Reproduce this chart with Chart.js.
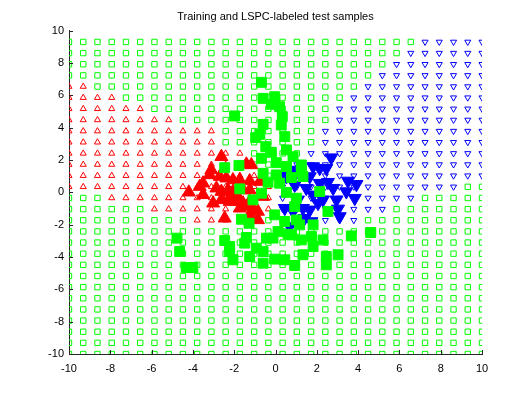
<!DOCTYPE html>
<html>
<head>
<meta charset="utf-8">
<script src="https://cdn.jsdelivr.net/npm/chart.js@4"></script>
<style>
  html, body { margin: 0; padding: 0; background: #fff; }
  canvas { display: block; }
</style>
</head>
<body>
<canvas id="chart" width="532" height="399"></canvas>
<script>
// test grid: 30 columns, 29 rows (top to bottom)
const gridX = [-10, -9.3103, -8.6207, -7.931, -7.2414, -6.5517, -5.8621, -5.1724, -4.4828, -3.7931,
  -3.1034, -2.4138, -1.7241, -1.0345, -0.3448, 0.3448, 1.0345, 1.7241, 2.4138, 3.1034,
  3.7931, 4.4828, 5.1724, 5.8621, 6.5517, 7.2414, 7.931, 8.6207, 9.3103, 10];
const gridY = [9.3103, 8.6207, 7.931, 7.2414, 6.5517, 5.8621, 5.1724, 4.4828, 3.7931, 3.1034,
  2.4138, 1.7241, 1.0345, 0.3448, -0.3448, -1.0345, -1.7241, -2.4138, -3.1034, -3.7931,
  -4.4828, -5.1724, -5.8621, -6.5517, -7.2414, -7.931, -8.6207, -9.3103, -10];

// LSPC labels of the test grid, one row per gridY value: r = red, g = green, b = blue
const testRows = [
  'gggggggggggggggggggggggggbbbbb',
  'ggggggggggggggggggggggggbbbbbb',
  'gggggggggggggggggggggggbbbbbbb',
  'ggggggggggggggggggggggbbbbbbbb',
  'rrgggggggggggggggggggbbbbbbbbb',
  'rrrrggggggggggggggggbbbbbbbbbb',
  'rrrrrrgggggggggggggbbbbbbbbbbb',
  'rrrrrrrrgggggggggggbbbbbbbbbbb',
  'rrrrrrrrrrrgggggggbbbbbbbbbbbb',
  'rrrrrrrrrrrgggggggbbbbbbbbbbbb',
  'rrrrrrrrrrrrrggggbbbbbbbbbbbbb',
  'rrrrrrrrrrrrrgggbbbbbbbbbbbbbb',
  'rrrrrrrrrrrrrrggbbbbbbbbbbbbbb',
  'rrrrrrrrrrrrrrrbbbbbbbbbbbbbgg',
  'gggrrrrrrrrrrrrbbbbbbbbbbggggg',
  'ggggggrrrrrrrrrbbbbbbbbggggggg',
  'gggggggggrrrrggggbbbbggggggggg',
  'gggggggggggggggggggggggggggggg',
  'gggggggggggggggggggggggggggggg',
  'gggggggggggggggggggggggggggggg',
  'gggggggggggggggggggggggggggggg',
  'gggggggggggggggggggggggggggggg',
  'gggggggggggggggggggggggggggggg',
  'gggggggggggggggggggggggggggggg',
  'gggggggggggggggggggggggggggggg',
  'gggggggggggggggggggggggggggggg',
  'gggggggggggggggggggggggggggggg',
  'gggggggggggggggggggggggggggggg',
  'gggggggggggggggggggggggggggggg'
];

// training samples [x, y]
const redTrain = [[-2.62,2.21],[-3.11,1.39],[-1.41,1.74],[-1.17,1.7],[-3.19,1.08],[-2.7,0.98],[-3.51,0.57],
  [-2.38,0.88],[-2.06,0.77],[-1.73,0.77],[-1.25,0.71],[-0.76,0.67],[-4.2,0.01],[-3.67,0.36],[-3.51,-0.15],
  [-2.86,0.26],[-2.62,0.05],[-2.3,0.15],[-2.06,0.05],[-1.57,0.15],[-1.25,0.15],[-2.14,-0.15],[-1.82,-0.26],
  [-3.02,-0.67],[-2.62,-0.46],[-2.22,-0.57],[-1.9,-0.57],[-1.57,-0.67],[-1.25,-0.57],[-0.6,-0.26],
  [-1.73,-0.98],[-1.41,-0.88],[-1.09,-1.08],[-0.85,-1.18],[-2.46,-1.6],[-0.85,-1.7],[-1.25,-1.39]];
const greenTrain = [[-0.68,6.81],[-0.6,5.82],[-0.04,5.92],[-0.2,5.45],[0.2,5.3],[-1.98,4.73],[0.33,4.69],
  [0.28,4.17],[-0.6,4.21],[0.45,3.45],[-0.76,3.59],[-0.96,3.39],[-0.47,2.83],[-0.2,2.48],[0.53,2.63],
  [-0.68,2.11],[0.04,1.84],[0.53,1.6],[-2.46,1.53],[-1.77,1.66],[-0.6,1.18],[0.04,1.08],[0.2,0.57],
  [-0.36,0.63],[-1.73,0.22],[-0.68,-0.05],[-1.09,-0.46],[-0.04,-1.39],[-1.65,-1.66],[-1.28,-1.91],
  [0.45,-1.8],[0.12,-2.42],[0.61,-2.59],[-2.46,-2.98],[-2.22,-3.35],[-2.22,-3.66],[-1.41,-2.79],
  [-1.49,-3.14],[-4.77,-2.83],[-4.64,-3.66],[-4.32,-4.65],[-4.0,-4.65],[-2.06,-4.17],[-1.25,-3.97],
  [-0.93,-3.45],[-0.6,-3.66],[-0.44,-2.83],[-0.12,-2.83],[-0.6,-4.38],[-0.04,-4.13],[0.45,-4.17],
  [0.85,2.21],[1.25,1.7],[1.25,1.29],[1.33,0.98],[0.77,0.92],[0.53,0.0],[1.01,-0.36],[0.93,-0.88],
  [2.14,0.05],[2.54,-1.18],[1.01,-1.7],[1.17,-2.01],[1.82,-2.01],[0.77,-2.63],[1.25,-2.94],[1.74,-2.73],
  [2.3,-2.94],[1.82,-3.35],[1.33,-3.86],[2.46,-3.97],[2.46,-4.48],[3.03,-3.86],[0.93,-4.52],[3.67,-2.69],
  [4.61,-2.48]];
const blueTrain = [[2.7,2.15],[1.82,1.6],[2.14,1.49],[2.46,1.49],[1.66,0.98],[3.51,0.71],[3.92,0.5],
  [2.14,0.57],[2.54,0.63],[0.61,1.08],[1.01,1.39],[0.93,0.46],[1.49,0.26],[2.79,0.26],[3.43,0.05],
  [3.84,-0.36],[1.82,-0.15],[2.3,-0.46],[2.95,-0.46],[3.03,-1.02],[1.09,-0.46],[1.33,-0.98],[1.66,-1.08],
  [2.06,-0.67],[0.45,-0.98],[0.85,-1.18],[3.11,-1.49],[0.69,-2.11],[1.74,-1.8],[1.41,-1.6],[0.53,0.98]];

const axisTicks = [-10, -8, -6, -4, -2, 0, 2, 4, 6, 8, 10];

const RED = '#ff0000';
const GREEN = '#00ff00';
const BLUE = '#0000ff';

function testPoints(label) {
  const pts = [];
  testRows.forEach((row, r) => {
    for (let c = 0; c < gridX.length; c++) {
      if (row[c] === label) pts.push({ x: gridX[c], y: gridY[r] });
    }
  });
  return pts;
}

const toXY = arr => arr.map(p => ({ x: p[0], y: p[1] }));

// ticks pointing into the plot, like the original figure
const innerTicks = {
  id: 'innerTicks',
  afterDraw(chart) {
    const { ctx, chartArea, scales } = chart;
    ctx.save();
    ctx.strokeStyle = '#262626';
    ctx.lineWidth = 1;
    ctx.beginPath();
    axisTicks.forEach(v => {
      const px = Math.round(scales.x.getPixelForValue(v)) + 0.5;
      ctx.moveTo(px, chartArea.bottom);
      ctx.lineTo(px, chartArea.bottom - 4);
      const py = Math.round(scales.y.getPixelForValue(v)) + 0.5;
      ctx.moveTo(chartArea.left, py);
      ctx.lineTo(chartArea.left + 4, py);
    });
    ctx.stroke();
    ctx.restore();
  }
};

const scaleOpts = {
  type: 'linear',
  min: -10,
  max: 10,
  afterBuildTicks: s => { s.ticks = axisTicks.map(v => ({ value: v })); },
  grid: { drawOnChartArea: false, drawTicks: false },
  border: { color: '#262626', width: 1 },
  ticks: {
    autoSkip: false,
    color: '#000',
    font: { family: 'Liberation Sans, Arial, sans-serif', size: 11 }
  }
};

new Chart(document.getElementById('chart'), {
  type: 'scatter',
  data: {
    datasets: [
      { data: toXY(greenTrain), pointStyle: 'rect', pointRadius: 7, backgroundColor: GREEN, borderColor: GREEN, borderWidth: 1 },
      { data: toXY(blueTrain), pointStyle: 'triangle', rotation: 180, pointRadius: 7.5, backgroundColor: BLUE, borderColor: BLUE, borderWidth: 1 },
      { data: toXY(redTrain), pointStyle: 'triangle', pointRadius: 7.5, backgroundColor: RED, borderColor: RED, borderWidth: 1 },
      { data: testPoints('g'), pointStyle: 'rect', pointRadius: 3.8, backgroundColor: 'rgba(0,0,0,0)', borderColor: GREEN, borderWidth: 1 },
      { data: testPoints('b'), pointStyle: 'triangle', rotation: 180, pointRadius: 3.5, backgroundColor: 'rgba(0,0,0,0)', borderColor: BLUE, borderWidth: 1 },
      { data: testPoints('r'), pointStyle: 'triangle', pointRadius: 3.5, backgroundColor: 'rgba(0,0,0,0)', borderColor: RED, borderWidth: 1 }
    ]
  },
  options: {
    responsive: false,
    animation: false,
    devicePixelRatio: 1,
    layout: { padding: { left: 0, right: 50, top: 0, bottom: 0 } },
    plugins: {
      legend: { display: false },
      tooltip: { enabled: false },
      title: {
        display: true,
        fullSize: false,
        text: 'Training and LSPC-labeled test samples',
        color: '#000',
        font: { family: 'Liberation Sans, Arial, sans-serif', size: 11, weight: 'normal' },
        padding: { top: 10, bottom: 7.6 }
      }
    },
    scales: {
      x: Object.assign({}, scaleOpts, {
        afterFit: s => { s.height = 45; },
        ticks: Object.assign({}, scaleOpts.ticks, { padding: 8, maxRotation: 0 })
      }),
      y: Object.assign({}, scaleOpts, {
        afterFit: s => { s.width = 69; },
        ticks: Object.assign({}, scaleOpts.ticks, { padding: 5 })
      })
    }
  },
  plugins: [innerTicks]
});
</script>
</body>
</html>
